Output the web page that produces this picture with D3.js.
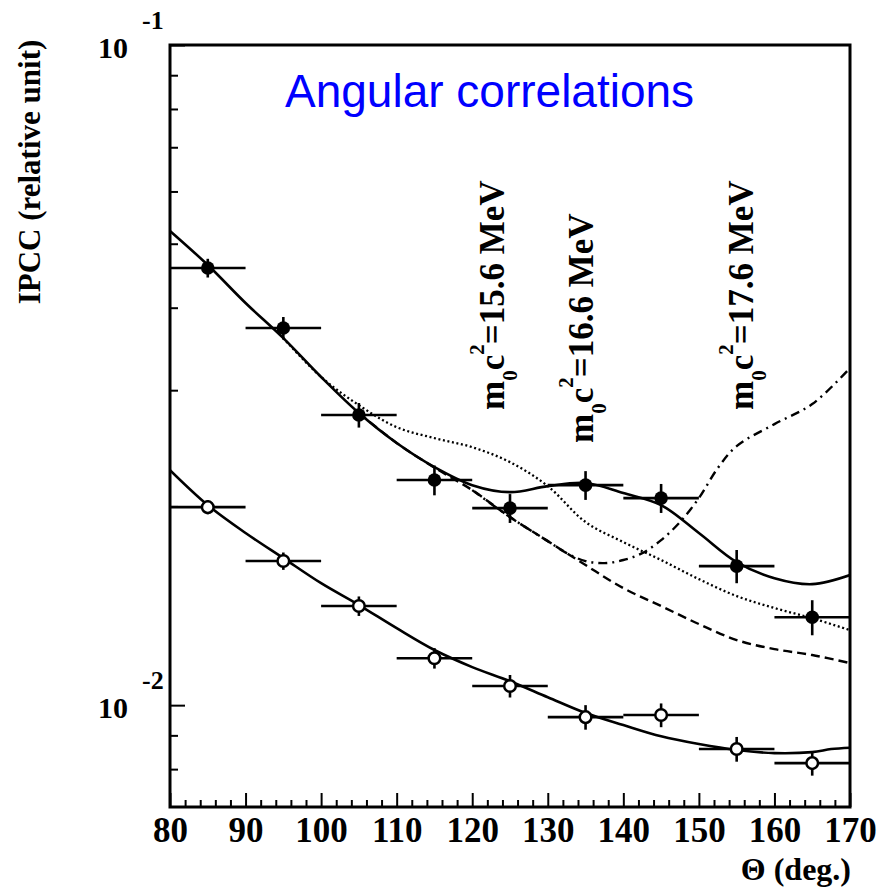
<!DOCTYPE html>
<html><head><meta charset="utf-8">
<script src="https://cdn.jsdelivr.net/npm/d3@7"></script>
<style>body{margin:0;background:#fff}svg{display:block}</style>
</head><body><svg id="chart" width="881" height="887"></svg>
<script>
// ---------------- DATA ----------------
const angles = [85, 95, 105, 115, 125, 135, 145, 155, 165];
const binHalfWidth = 5;
const filledValues = [0.04594, 0.03726, 0.02751, 0.02193, 0.01988, 0.02154, 0.02059, 0.01624, 0.01359];
const filledErrors = [0.00150, 0.00146, 0.00118, 0.00114, 0.00100, 0.00108, 0.00104, 0.00094, 0.00083];
const openValues = [0.01995, 0.01653, 0.01413, 0.01178, 0.01069, 0.00959, 0.00966, 0.00858, 0.00817];
const openErrors = [0.00049, 0.00050, 0.00048, 0.00042, 0.00042, 0.00041, 0.00040, 0.00037, 0.00035];

const fitFilledTheta = [80, 85, 90, 95, 100, 105, 110, 115, 120, 125, 130, 135, 140, 145, 150, 155, 160, 165, 170];
const fitFilledValues = [0.05228, 0.04642, 0.04066, 0.03597, 0.03141, 0.02770, 0.02495, 0.02294, 0.02154, 0.02102, 0.02147, 0.02170, 0.02095, 0.02009, 0.01823, 0.01647, 0.01557, 0.01525, 0.01574];

const dottedTheta = [95, 100, 105, 110, 115, 120, 125, 130, 135, 140, 145, 150, 155, 160, 165, 170];
const dottedValues = [0.03597, 0.03141, 0.02847, 0.02637, 0.02538, 0.02459, 0.02334, 0.02147, 0.01894, 0.01766, 0.01659, 0.01552, 0.01463, 0.01403, 0.01354, 0.01299];

const dashedTheta = [105, 110, 115, 120, 125, 130, 135, 140, 145, 150, 155, 160, 165, 170];
const dashedValues = [0.02770, 0.02495, 0.02290, 0.02117, 0.01927, 0.01772, 0.01630, 0.01504, 0.01413, 0.01327, 0.01255, 0.01216, 0.01191, 0.01158];

const dashDotTheta = [120, 125, 130, 132.5, 135, 137.5, 140, 142.5, 145, 147.5, 150, 152.5, 155, 160, 165, 170];
const dashDotValues = [0.02117, 0.01927, 0.01772, 0.01699, 0.01653, 0.01641, 0.01659, 0.01699, 0.01778, 0.01894, 0.02059, 0.02286, 0.02468, 0.02665, 0.02858, 0.03241];

const fitOpenTheta = [80, 85, 90, 95, 100, 105, 110, 115, 120, 125, 130, 135, 140, 145, 150, 155, 160, 165, 167.5, 170];
const fitOpenValues = [0.02270, 0.02009, 0.01823, 0.01670, 0.01530, 0.01418, 0.01308, 0.01212, 0.01142, 0.01087, 0.01028, 0.00973, 0.00933, 0.00897, 0.00873, 0.00855, 0.00846, 0.00849, 0.00858, 0.00862];

const xMajorTicks = [80, 90, 100, 110, 120, 130, 140, 150, 160, 170];
const xMinorTicks = d3.range(82, 170, 2).filter(d => d % 10 !== 0);
const yMajorTicks = [0.01, 0.1];
const yMajorExponents = ["-2", "-1"];
const yMinorTicks = [0.008, 0.009, 0.02, 0.03, 0.04, 0.05, 0.06, 0.07, 0.08, 0.09];
const massLabels = ["15.6", "16.6", "17.6"];
const titleText = "Angular correlations";
const yLabelText = "IPCC (relative unit)";
const xLabelText = "\u0398 (deg.)";

// ---------------- LAYOUT ----------------
const W = 881, H = 887;
const plot = {left: 170, right: 850, top: 45, bottom: 807};
const serif = "'Liberation Serif', 'Times New Roman', serif";
const sans = "'Liberation Sans', Arial, sans-serif";

const svg = d3.select("#chart");
svg.append("rect").attr("width", W).attr("height", H).attr("fill", "#fff");

const x = d3.scaleLinear().domain([80, 170]).range([plot.left, plot.right]);
const y = d3.scaleLog().domain([0.00701, 0.1]).range([plot.bottom, plot.top]);

svg.append("defs").append("clipPath").attr("id", "clip")
  .append("rect").attr("x", plot.left).attr("y", plot.top)
  .attr("width", plot.right - plot.left).attr("height", plot.bottom - plot.top);

// ---- axes ----
const gxMinor = svg.append("g").attr("transform", `translate(0,${plot.bottom})`)
  .call(d3.axisBottom(x).tickValues(xMinorTicks).tickSizeInner(-7).tickSizeOuter(0).tickFormat(""));
const gx = svg.append("g").attr("transform", `translate(0,${plot.bottom})`)
  .call(d3.axisBottom(x).tickValues(xMajorTicks).tickSizeInner(-14).tickSizeOuter(0).tickPadding(10).tickFormat(d3.format("d")));
[gxMinor, gx].forEach(g => {
  g.select(".domain").remove();
  g.selectAll("line").attr("stroke", "#000").attr("stroke-width", 2);
});
gx.selectAll("text").attr("font-family", serif).attr("font-weight", "bold")
  .attr("font-size", 35).attr("fill", "#000");

const gyMinor = svg.append("g").attr("transform", `translate(${plot.left},0)`)
  .call(d3.axisLeft(y).tickValues(yMinorTicks).tickSizeInner(-8).tickSizeOuter(0).tickFormat(""));
const gy = svg.append("g").attr("transform", `translate(${plot.left},0)`)
  .call(d3.axisLeft(y).tickValues(yMajorTicks).tickSizeInner(-15).tickSizeOuter(0).tickFormat(""));
[gyMinor, gy].forEach(g => {
  g.select(".domain").remove();
  g.selectAll("line").attr("stroke", "#000").attr("stroke-width", 2);
});
gy.selectAll(".tick").each(function(d) {
  const t = d3.select(this);
  t.append("text").attr("x", -42).attr("y", 12).attr("text-anchor", "end")
    .attr("font-family", serif).attr("font-weight", "bold").attr("font-size", 30).attr("fill", "#000")
    .text("10");
  t.append("text").attr("x", -28).attr("y", -17).attr("text-anchor", "start")
    .attr("font-family", serif).attr("font-weight", "bold").attr("font-size", 26).attr("fill", "#000")
    .text(yMajorExponents[yMajorTicks.indexOf(d)]);
});

// ---- curves ----
const curveG = svg.append("g").attr("clip-path", "url(#clip)").attr("fill", "none").attr("stroke", "#000");
function drawCurve(thetas, values, width, dash) {
  const pts = thetas.map((t, i) => [t, values[i]]);
  const line = d3.line().x(d => x(d[0])).y(d => y(d[1])).curve(d3.curveCatmullRom.alpha(0.5));
  const p = curveG.append("path").attr("d", line(pts)).attr("stroke-width", width);
  if (dash) p.attr("stroke-dasharray", dash);
}
drawCurve(dottedTheta, dottedValues, 2.3, "2,2.6");
drawCurve(dashedTheta, dashedValues, 2.4, "9,5");
drawCurve(dashDotTheta, dashDotValues, 2.4, "9,5,2,5");
drawCurve(fitFilledTheta, fitFilledValues, 2.6, null);
drawCurve(fitOpenTheta, fitOpenValues, 2.6, null);

// ---- data points ----
function drawPoints(values, errors, filled) {
  const g = svg.append("g").attr("clip-path", "url(#clip)");
  const data = angles.map((a, i) => ({a, v: values[i], e: errors[i]}));
  g.selectAll(".hbar").data(data).join("line")
    .attr("x1", d => x(d.a - binHalfWidth)).attr("x2", d => x(d.a + binHalfWidth))
    .attr("y1", d => y(d.v)).attr("y2", d => y(d.v))
    .attr("stroke", "#000").attr("stroke-width", 2.6);
  g.selectAll(".vbar").data(data).join("line")
    .attr("x1", d => x(d.a)).attr("x2", d => x(d.a))
    .attr("y1", d => y(d.v - d.e)).attr("y2", d => y(d.v + d.e))
    .attr("stroke", "#000").attr("stroke-width", 2.6);
  g.selectAll("circle").data(data).join("circle")
    .attr("cx", d => x(d.a)).attr("cy", d => y(d.v))
    .attr("r", filled ? 6.8 : 5.8)
    .attr("fill", filled ? "#000" : "#fff")
    .attr("stroke", "#000").attr("stroke-width", filled ? 0 : 2.5);
}
drawPoints(filledValues, filledErrors, true);
drawPoints(openValues, openErrors, false);

// ---- frame ----
svg.append("rect").attr("x", plot.left).attr("y", plot.top)
  .attr("width", plot.right - plot.left).attr("height", plot.bottom - plot.top)
  .attr("fill", "none").attr("stroke", "#000").attr("stroke-width", 3);

// ---- texts ----
svg.append("text").attr("x", 285).attr("y", 107)
  .attr("font-family", sans).attr("font-size", 46).attr("fill", "#0000ff")
  .text(titleText);

svg.append("text").attr("transform", "translate(40,172) rotate(-90)")
  .attr("text-anchor", "middle").attr("font-family", serif).attr("font-weight", "bold")
  .attr("font-size", 31).attr("fill", "#000").text(yLabelText);

svg.append("text").attr("x", 851).attr("y", 880).attr("text-anchor", "end")
  .attr("font-family", serif).attr("font-weight", "bold").attr("font-size", 32).attr("fill", "#000")
  .text(xLabelText);

const massPos = [[504, 410], [593, 443], [753, 410]];
massLabels.forEach((m, i) => {
  const t = svg.append("text")
    .attr("transform", `translate(${massPos[i][0]},${massPos[i][1]}) rotate(-90)`)
    .attr("font-family", serif).attr("font-weight", "bold").attr("font-size", 35).attr("fill", "#000");
  t.append("tspan").text("m");
  t.append("tspan").attr("font-size", 21).attr("dy", 13).text("0");
  t.append("tspan").attr("dy", -13).text("c");
  t.append("tspan").attr("font-size", 21).attr("dy", -20).text("2");
  t.append("tspan").attr("dy", 20).text(`=${m} MeV`);
});
</script>
</body></html>
